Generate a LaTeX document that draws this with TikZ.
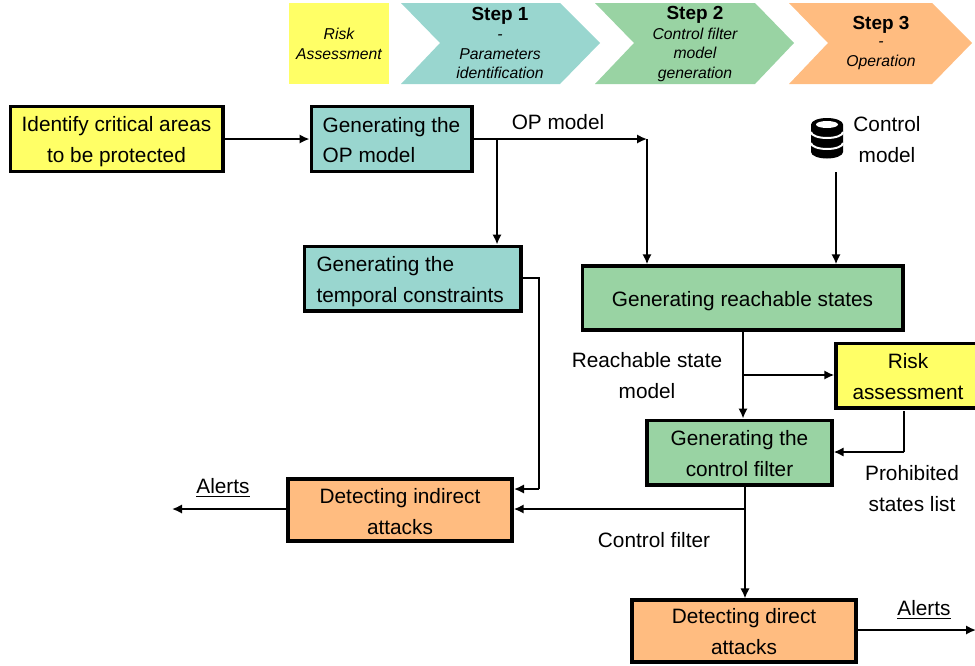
\documentclass[tikz,border=0pt]{standalone}
\usepackage{fontspec}
\setmainfont{Liberation Sans}
\usepackage{amsmath}
\usetikzlibrary{arrows.meta}
\usetikzlibrary{calc}

\definecolor{tealfill}{HTML}{99D6CF}
\definecolor{greenfill}{HTML}{99D3A3}
\definecolor{orangefill}{HTML}{FFBC80}
\definecolor{yellowfill}{HTML}{FFFF66}

\tikzset{
  box/.style={draw=black, line width=2.6pt, inner sep=0pt, font=\fontsize{15.6}{23.2}\selectfont, align=center},
  flow/.style={black, line width=1.4pt, -{Latex[length=7.5pt,width=7pt]}},
  wire/.style={black, line width=1.4pt},
  lbl/.style={inner sep=0pt, font=\fontsize{15.6}{23.2}\selectfont, align=center},
  headtxt/.style={inner sep=0pt, align=center, font=\fontsize{11.8}{14.6}\selectfont\itshape}
}

\newcommand{\steptitletxt}[1]{{\fontsize{14.2}{14.6}\selectfont\bfseries\upshape #1}}

\begin{document}
\begin{tikzpicture}[x=0.75pt, y=-0.75pt]
        \useasboundingbox (0,0) rectangle (975,665);
        \clip (0,0) rectangle (975,665);

        % header band
        \fill[yellowfill] (289,3) rectangle (389,84);
        \fill[tealfill] (401,3) -- (560,3) -- (600,43) -- (560,84) -- (401,84) -- (440,43) -- cycle;
        \fill[greenfill] (595,3) -- (755,3) -- (794,43) -- (755,84) -- (595,84) -- (634,43) -- cycle;
        \fill[orangefill] (789,3) -- (932,3) -- (972,43) -- (932,84) -- (789,84) -- (828,43) -- cycle;

        \node[headtxt] (riskhead) at (339,44) {Risk\\Assessment};
        \node[headtxt] (stepone) at (500,43) {\steptitletxt{Step 1}\\-\\Parameters\\identification};
        \node[headtxt] (steptwo) at (695,44) {\steptitletxt{Step 2}\\Control filter\\model\\generation};
        \node[headtxt] (stepthree) at (881,43) {\steptitletxt{Step 3}\\[-2pt]-\\Operation};

        % boxes
        \node[box, text height=39.1pt, fill=yellowfill, minimum width=159.4pt, minimum height=48.4pt] (identify) at (116.5,139) {Identify critical areas\\to be protected};
        \node[box, text height=36.1pt, fill=tealfill, minimum width=120.4pt, minimum height=49pt, align=left] (opgen) at (391.5,139) {Generating the\hspace{1.5pt}\\OP model};
        \node[box, text height=39.1pt, fill=tealfill, minimum width=162.4pt, minimum height=48.4pt, align=left] (temporal) at (412.5,278.5) {Generating the\\temporal constraints\phantom{i}\hspace{1.5pt}};
        \node[box, text height=15.9pt, fill=greenfill, minimum width=240.4pt, minimum height=48pt] (reachable) at (742.5,298) {Generating reachable states};
        \node[box, text height=36.1pt, fill=yellowfill, minimum width=108pt, minimum height=48.4pt] (risk) at (908,375.5) {Risk\\assessment};
        \node[box, text height=36.1pt, fill=greenfill, minimum width=138.6pt, minimum height=48.4pt] (filter) at (739.5,452.5) {Generating the\\control filter};
        \node[box, text height=36.6pt, fill=orangefill, minimum width=168pt, minimum height=46.2pt] (indirect) at (400,510) {Detecting indirect\\attacks};
        \node[box, text height=35.1pt, fill=orangefill, minimum width=168pt, minimum height=46.2pt] (direct) at (744,631) {Detecting direct\\attacks};

        % database icon
        \fill[black] (811,124.5) arc (180:360:16 and 6.5) -- (843,152) arc (0:180:16 and 6.5) -- cycle;
        \draw[white, line width=1.5pt] (811,132) arc (180:0:16 and 6);
        \draw[white, line width=1.5pt] (811,143) arc (180:0:16 and 6);
        \fill[white] (827,124.5) ellipse (11 and 3.5);
        \coordinate (dbfoot) at (836,172);

        % labels
        \node[lbl] (opmodel) at (558,122) {OP model};
        \node[lbl] (ctrlmodel) at (887,139.5) {Control\\model};
        \node[lbl] (reachmodel) at (647,375.5) {Reachable state\\model};
        \node[lbl] (prohibited) at (912,488.5) {Prohibited\\states list};
        \node[lbl] (filterlbl) at (654,540) {Control filter};
        \node[lbl] (alertsa) at (223,488) {\underline{Alerts}};
        \node[lbl] (alertsb) at (924,610) {\underline{Alerts}};

        % junctions and free ends
        \coordinate (opturn) at (647,139);
        \coordinate (opsplit) at (497,139);
        \coordinate (tempa) at (539,278);
        \coordinate (tempb) at (539,489);
        \coordinate (indirecttop) at (514,489);
        \coordinate (reachsplit) at (743,375);
        \coordinate (riskfoot) at (904,411);
        \coordinate (riskturn) at (904,452);
        \coordinate (filterfoot) at (745,487);
        \coordinate (filtersplit) at (745,509);
        \coordinate (alertaend) at (172,509);
        \coordinate (alertbend) at (976,630);

        % connectors
        \draw[flow] (identify.east) -- (opgen.west);
        \draw[flow] (opgen.east) -- (opturn);
        \draw[flow] (opturn) -- (opturn |- reachable.north);
        \draw[flow] (opsplit) -- (opsplit |- temporal.north);
        \draw[flow] (dbfoot) -- (dbfoot |- reachable.north);
        \draw[wire] (temporal.east |- tempa) -- (tempa) -- (tempb);
        \draw[flow] (tempb) -- (indirecttop);
        \draw[flow] (reachsplit |- reachable.south) -- (reachsplit |- filter.north);
        \draw[flow] (reachsplit) -- (reachsplit -| risk.west);
        \draw[wire] (riskfoot) -- (riskturn);
        \draw[flow] (riskturn) -- (riskturn -| filter.east);
        \draw[flow] (filterfoot) -- (filterfoot |- direct.north);
        \draw[flow] (filtersplit) -- (filtersplit -| indirect.east);
        \draw[flow] (indirect.west |- alertaend) -- (alertaend);
        \draw[flow] (direct.east |- alertbend) -- (alertbend);
    \end{tikzpicture}
\end{document}
